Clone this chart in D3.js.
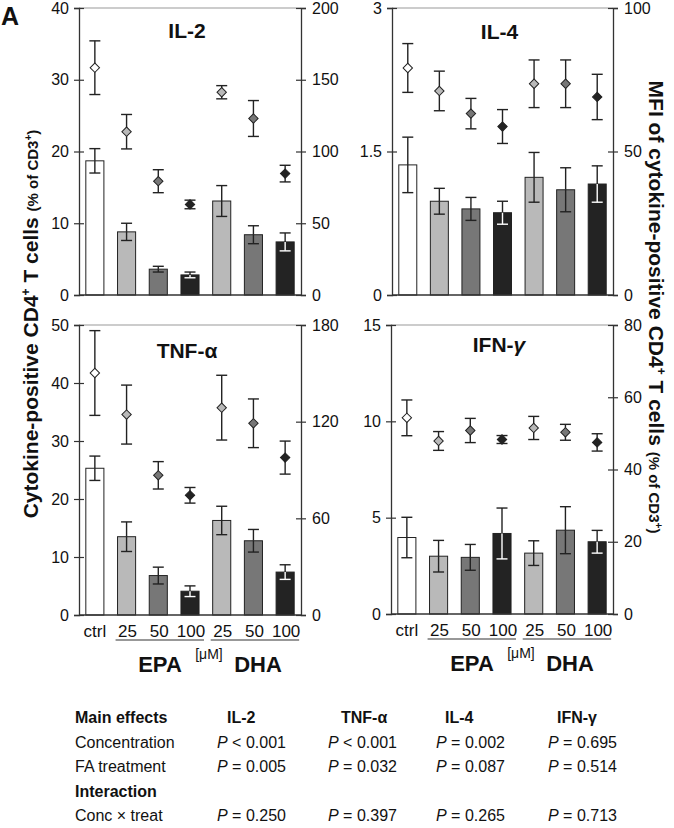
<!DOCTYPE html>
<html><head><meta charset="utf-8">
<script src="https://cdn.jsdelivr.net/npm/d3@7"></script>
<style>
body{margin:0;background:#fff}
svg{display:block}
text{font-family:"Liberation Sans",Arial,Helvetica,sans-serif;fill:#111}
</style>
</head><body>
<svg id="chart" width="674" height="828"></svg>
<script>
// ---------- data ----------
const concLabels = ["ctrl","25","50","100","25","50","100"];
const treatment  = ["ctrl","EPA","EPA","EPA","DHA","DHA","DHA"];

// % of CD3+ (bars, left axis) and MFI (diamonds, right axis)
const il2Pct     = [18.7, 8.8, 3.6, 2.8, 13.1, 8.4, 7.4];
const il2PctErr  = [1.7, 1.2, 0.4, 0.4, 2.15, 1.25, 1.25];
const il2Mfi     = [158.4, 113.8, 79.3, 63.1, 141.3, 123.0, 84.6];
const il2MfiErr  = [18.7, 12.0, 8.0, 3.0, 4.6, 12.5, 5.8];

const il4Pct     = [1.36, 0.98, 0.90, 0.86, 1.23, 1.10, 1.16];
const il4PctErr  = [0.29, 0.135, 0.12, 0.12, 0.26, 0.23, 0.19];
const il4Mfi     = [79.1, 71.1, 63.2, 58.7, 73.6, 73.6, 69.0];
const il4MfiErr  = [8.5, 6.9, 5.3, 5.9, 8.3, 8.3, 7.9];

const tnfPct     = [25.3, 13.5, 6.8, 4.1, 16.3, 12.8, 7.4];
const tnfPctErr  = [2.1, 2.55, 1.45, 0.92, 2.45, 1.95, 1.26];
const tnfMfi     = [150.2, 124.4, 86.7, 74.3, 128.7, 119.0, 97.7];
const tnfMfiErr  = [26.3, 18.3, 8.5, 4.85, 20.1, 15.1, 10.25];

const ifnPct     = [3.97, 3.0, 2.94, 4.18, 3.16, 4.35, 3.75];
const ifnPctErr  = [1.05, 0.82, 0.67, 1.32, 0.64, 1.22, 0.59];
const ifnMfi     = [54.3, 47.9, 50.8, 48.3, 51.5, 50.3, 47.5];
const ifnMfiErr  = [4.95, 2.6, 3.35, 1.1, 3.2, 2.2, 2.4];

const il2LeftTicks  = [0, 10, 20, 30, 40];
const il2RightTicks = [0, 50, 100, 150, 200];
const il4LeftTicks  = [0, 1.5, 3];
const il4RightTicks = [0, 50, 100];
const tnfLeftTicks  = [0, 10, 20, 30, 40, 50];
const tnfRightTicks = [0, 60, 120, 180];
const ifnLeftTicks  = [0, 5, 10, 15];
const ifnRightTicks = [0, 20, 40, 60, 80];

const tableHeaders  = ["IL-2", "TNF-α", "IL-4", "IFN-γ"];
const pConcentration = ["< 0.001", "< 0.001", "= 0.002", "= 0.695"];
const pTreatment     = ["= 0.005", "= 0.032", "= 0.087", "= 0.514"];
const pInteraction   = ["= 0.250", "= 0.397", "= 0.265", "= 0.713"];

// ---------- styles / layout ----------
const fills = ["#ffffff","#b9b9b9","#777777","#232323","#b9b9b9","#777777","#232323"];
const svg = d3.select("#chart");

const panels = [
  {title:"IL-2", tail:null, pct:il2Pct, pe:il2PctErr, mfi:il2Mfi, me:il2MfiErr, lt:il2LeftTicks, rt:il2RightTicks,
   x0:79, x1:301, yT:8, yB:295, ty:38, bottom:false},
  {title:"IL-4", tail:null, pct:il4Pct, pe:il4PctErr, mfi:il4Mfi, me:il4MfiErr, lt:il4LeftTicks, rt:il4RightTicks,
   x0:392, x1:613, yT:8, yB:295, ty:39, bottom:false},
  {title:"TNF-", tail:"α", pct:tnfPct, pe:tnfPctErr, mfi:tnfMfi, me:tnfMfiErr, lt:tnfLeftTicks, rt:tnfRightTicks,
   x0:79, x1:301, yT:325, yB:615, ty:358, bottom:true},
  {title:"IFN-", tail:"γ", pct:ifnPct, pe:ifnPctErr, mfi:ifnMfi, me:ifnMfiErr, lt:ifnLeftTicks, rt:ifnRightTicks,
   x0:391, x1:613, yT:325, yB:614, ty:352, bottom:true}
];

const ink = "#222";

panels.forEach(p => {
  const g = svg.append("g");
  const x = d3.scaleBand().domain(d3.range(concLabels.length)).range([p.x0, p.x1])
              .paddingInner(0.43).paddingOuter(0.215);
  const yL = d3.scaleLinear().domain([0, d3.max(p.lt)]).range([p.yB, p.yT]);
  const yR = d3.scaleLinear().domain([0, d3.max(p.rt)]).range([p.yB, p.yT]);
  const bw = x.bandwidth();
  const cx = i => x(i) + bw / 2;

  // top frame line
  g.append("line").attr("x1", p.x0).attr("x2", p.x1).attr("y1", p.yT).attr("y2", p.yT)
    .attr("stroke", "#9a9a9a").attr("stroke-width", 1.2);

  // bars
  g.selectAll("rect.bar").data(p.pct).join("rect")
    .attr("x", (d, i) => x(i)).attr("width", bw)
    .attr("y", d => yL(d)).attr("height", d => p.yB - yL(d))
    .attr("fill", (d, i) => fills[i]).attr("stroke", ink).attr("stroke-width", 1);

  // bar error bars
  const cap = 5.5;
  p.pct.forEach((v, i) => {
    const hi = yL(v + p.pe[i]), lo = yL(v - p.pe[i]), top = yL(v), c = cx(i);
    const dark = fills[i] === "#232323";
    g.append("line").attr("x1", c).attr("x2", c).attr("y1", hi).attr("y2", top)
      .attr("stroke", ink).attr("stroke-width", 1.4);
    g.append("line").attr("x1", c - cap).attr("x2", c + cap).attr("y1", hi).attr("y2", hi)
      .attr("stroke", ink).attr("stroke-width", 1.4);
    const col = dark ? "#ffffff" : ink;
    g.append("line").attr("x1", c).attr("x2", c).attr("y1", top).attr("y2", lo)
      .attr("stroke", col).attr("stroke-width", 1.4);
    g.append("line").attr("x1", c - cap).attr("x2", c + cap).attr("y1", lo).attr("y2", lo)
      .attr("stroke", col).attr("stroke-width", 1.4);
  });

  // MFI error bars
  p.mfi.forEach((v, i) => {
    const hi = yR(v + p.me[i]), lo = yR(v - p.me[i]), c = cx(i);
    g.append("line").attr("x1", c).attr("x2", c).attr("y1", hi).attr("y2", lo)
      .attr("stroke", ink).attr("stroke-width", 1.4);
    [hi, lo].forEach(yy => g.append("line").attr("x1", c - cap).attr("x2", c + cap)
      .attr("y1", yy).attr("y2", yy).attr("stroke", ink).attr("stroke-width", 1.4));
  });

  // diamonds
  const sym = d3.symbol().type(d3.symbolSquare).size(44);
  g.selectAll("path.dia").data(p.mfi).join("path")
    .attr("d", sym)
    .attr("transform", (d, i) => `translate(${cx(i)},${yR(d)}) rotate(45)`)
    .attr("fill", (d, i) => fills[i]).attr("stroke", ink).attr("stroke-width", 1);

  // axes
  const fmt = d => String(d);
  const ax = g.append("g").attr("transform", `translate(${p.x0},0)`)
    .call(d3.axisLeft(yL).tickValues(p.lt).tickFormat(fmt).tickSize(5).tickPadding(5));
  const ax2 = g.append("g").attr("transform", `translate(${p.x1},0)`)
    .call(d3.axisRight(yR).tickValues(p.rt).tickFormat(fmt).tickSize(5).tickPadding(6));
  [ax, ax2].forEach((a, k) => {
    a.select(".domain").attr("stroke", "#333").attr("stroke-width", 1.3);
    a.selectAll(".tick line").attr("stroke", "#333").attr("stroke-width", 1.2)
      .attr("x1", k === 0 ? 5 : -5);
    a.selectAll(".tick text").attr("font-size", 16).attr("fill", "#222")
      .style("font-family", '"Liberation Sans", Arial, sans-serif');
  });
  // baseline
  g.append("line").attr("x1", p.x0).attr("x2", p.x1).attr("y1", p.yB).attr("y2", p.yB)
    .attr("stroke", "#333").attr("stroke-width", 1.3);

  // title
  const t = g.append("text").attr("x", (p.x0 + p.x1) / 2 - 3).attr("y", p.ty)
    .attr("text-anchor", "middle").attr("font-size", 21).attr("font-weight", "bold");
  t.append("tspan").text(p.title);
  if (p.tail) t.append("tspan").text(p.tail).attr("font-style", p.tail === "γ" ? "italic" : "normal");

  // category labels + treatment groups
  if (p.bottom) {
    g.selectAll("text.cat").data(concLabels).join("text")
      .attr("x", (d, i) => cx(i) + (i === 0 ? 0 : 1)).attr("y", p.yB + 22)
      .attr("text-anchor", "middle").attr("font-size", 17).attr("fill", "#222")
      .text(d => d);
    const groupsU = ["EPA", "DHA"];
    groupsU.forEach(gr => {
      const idx = d3.range(treatment.length).filter(i => treatment[i] === gr);
      const a = cx(idx[0]) - 11, b = cx(idx[idx.length - 1]) + 14;
      g.append("line").attr("x1", a).attr("x2", b).attr("y1", p.yB + 25).attr("y2", p.yB + 25)
        .attr("stroke", "#333").attr("stroke-width", 1.2);
    });
    g.append("text").attr("x", p.x0 + 81).attr("y", p.yB + 57).attr("text-anchor", "middle")
      .attr("font-size", 22).attr("font-weight", "bold").text("EPA");
    g.append("text").attr("x", p.x0 + 130).attr("y", p.yB + 44).attr("text-anchor", "middle")
      .attr("font-size", 14).text("[μM]");
    g.append("text").attr("x", p.x0 + 179).attr("y", p.yB + 57).attr("text-anchor", "middle")
      .attr("font-size", 22).attr("font-weight", "bold").text("DHA");
  }
});

// panel letter
svg.append("text").attr("x", 1).attr("y", 25).attr("font-size", 25).attr("font-weight", "bold").text("A");

// y-axis titles
function axisTitle(tr, main) {
  const t = svg.append("text").attr("transform", tr).attr("text-anchor", "middle")
    .attr("font-weight", "bold").attr("font-size", 21);
  t.append("tspan").text(main + " CD4");
  t.append("tspan").text("+").attr("font-size", 12).attr("dy", -8);
  t.append("tspan").text(" T cells ").attr("dy", 8);
  t.append("tspan").text("(% of CD3").attr("font-size", 15);
  t.append("tspan").text("+").attr("font-size", 10).attr("dy", -6);
  t.append("tspan").text(")").attr("font-size", 15).attr("dy", 6);
}
axisTitle("translate(38,324) rotate(-90)", "Cytokine-positive");
axisTitle("translate(649,307) rotate(90)", "MFI of cytokine-positive");

// stats table
const colX = [217, 328, 436, 548];
const headX = [227, 341, 445, 557];
const rowY = [723, 748, 772, 797, 821];
const tb = svg.append("g").attr("font-size", 16);
tb.append("text").attr("x", 75).attr("y", rowY[0]).attr("font-weight", "bold").text("Main effects");
tableHeaders.forEach((h, i) => tb.append("text").attr("x", headX[i]).attr("y", rowY[0])
  .attr("font-weight", "bold").text(h));
function pRow(label, vals, y) {
  tb.append("text").attr("x", 75).attr("y", y).text(label);
  vals.forEach((v, i) => {
    const t = tb.append("text").attr("x", colX[i]).attr("y", y);
    t.append("tspan").text("P").attr("font-style", "italic");
    t.append("tspan").text(" " + v);
  });
}
pRow("Concentration", pConcentration, rowY[1]);
pRow("FA treatment", pTreatment, rowY[2]);
tb.append("text").attr("x", 75).attr("y", rowY[3]).attr("font-weight", "bold").text("Interaction");
pRow("Conc × treat", pInteraction, rowY[4]);
</script>
</body></html>
